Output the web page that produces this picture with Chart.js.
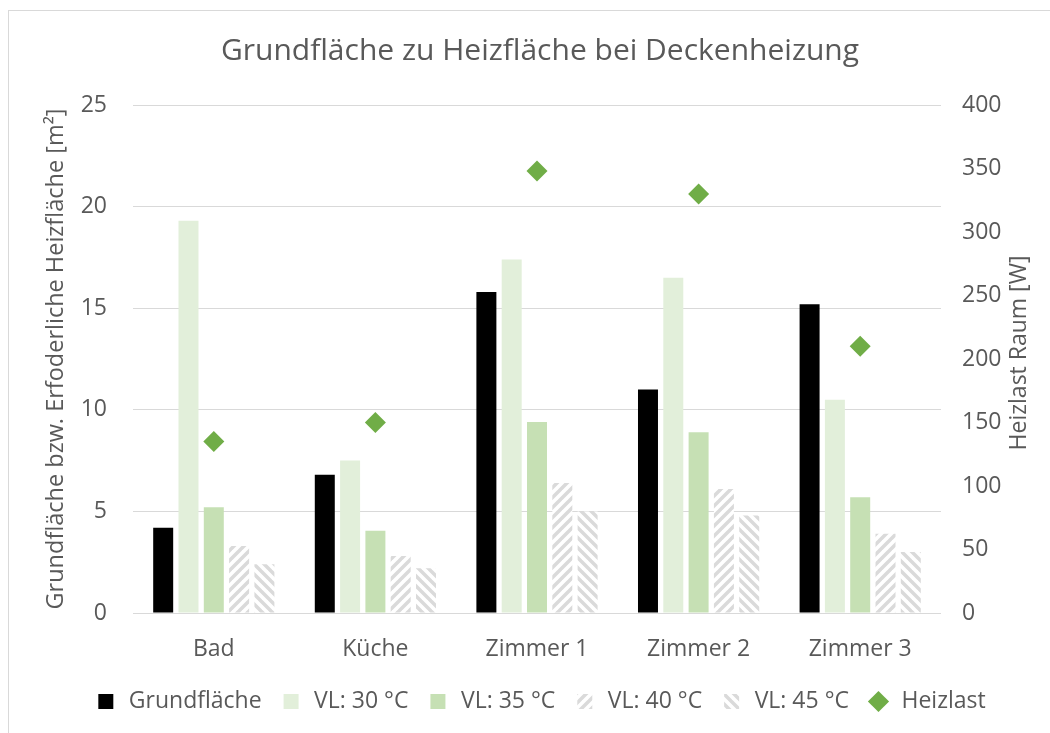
<!DOCTYPE html>
<html>
<head>
<meta charset="utf-8">
<script src="https://cdn.jsdelivr.net/npm/chart.js@4.4.1/dist/chart.umd.min.js"></script>
<style>
  html, body { margin: 0; padding: 0; background: #ffffff; overflow: hidden; }
  #rahmen {
    position: absolute; left: 8px; top: 10px; width: 1100px; height: 800px;
    border: 1px solid #d9d9d9; box-sizing: border-box;
  }
  #box { position: absolute; left: 0; top: 0; width: 1050px; height: 733px; }
</style>
</head>
<body>
<div id="rahmen"></div>
<div id="box"><canvas id="grafico" width="1050" height="733"></canvas></div>
<script>
var raeume = ["Bad", "Küche", "Zimmer 1", "Zimmer 2", "Zimmer 3"];
var grundflaeche = [4.2, 6.8, 15.8, 11.0, 15.2];
var vl30 = [19.3, 7.5, 17.4, 16.5, 10.5];
var vl35 = [5.2, 4.05, 9.4, 8.9, 5.7];
var vl40 = [3.3, 2.8, 6.4, 6.1, 3.9];
var vl45 = [2.4, 2.2, 5.0, 4.8, 3.0];
var heizlast = [135, 150, 348, 330, 210];

var ticksFlaeche = [0, 5, 10, 15, 20, 25];
var ticksLast = [0, 50, 100, 150, 200, 250, 300, 350, 400];

var COR_TEXTO = "#595959";
var COR_GRADE = "#d9d9d9";
var FONTE = '"Open Sans", sans-serif';

// ---------- SCHRAFFUR ----------

function criarSchraffur(richtung) {
  var tam = 10;
  var c = document.createElement("canvas");
  c.width = tam;
  c.height = tam;
  var g = c.getContext("2d");
  g.fillStyle = "#ffffff";
  g.fillRect(0, 0, tam, tam);
  g.strokeStyle = "#dadada";
  g.lineWidth = 3.5;
  g.beginPath();
  for (var k = -1; k <= 1; k++) {
    if (richtung === "auf") {
      g.moveTo(k * tam - 1, tam + 1);
      g.lineTo(k * tam + tam + 1, -1);
    } else {
      g.moveTo(k * tam - 1, -1);
      g.lineTo(k * tam + tam + 1, tam + 1);
    }
  }
  g.stroke();
  return document.getElementById("grafico").getContext("2d").createPattern(c, "repeat");
}

var muster40 = criarSchraffur("auf");
var muster45 = criarSchraffur("ab");

// ---------- RECHTER ACHSENTITEL ----------

var tituloDireita = {
  id: "tituloDireita",
  afterDraw: function (chart) {
    var ctx = chart.ctx;
    var area = chart.chartArea;
    ctx.save();
    ctx.fillStyle = COR_TEXTO;
    ctx.font = "23px " + FONTE;
    ctx.textAlign = "center";
    ctx.textBaseline = "middle";
    ctx.translate(1019, (area.top + area.bottom) / 2 - 6);
    ctx.rotate(-Math.PI / 2);
    ctx.fillText("Heizlast Raum [W]", 0, 0);
    ctx.restore();
  }
};

function barra(nome, dados, cor) {
  return {
    type: "bar",
    label: nome,
    data: dados,
    backgroundColor: cor,
    borderWidth: 0,
    pointStyle: "rect",
    yAxisID: "y",
    categoryPercentage: 0.783,
    barPercentage: 0.79,
    order: 2
  };
}

new Chart(document.getElementById("grafico"), {
  data: {
    labels: raeume,
    datasets: [
      barra("Grundfläche", grundflaeche, "#000000"),
      barra("VL: 30 °C", vl30, "#e2efda"),
      barra("VL: 35 °C", vl35, "#c6e0b4"),
      barra("VL: 40 °C", vl40, muster40),
      barra("VL: 45 °C", vl45, muster45),
      {
        type: "line",
        label: "Heizlast",
        data: heizlast,
        yAxisID: "y1",
        showLine: false,
        pointStyle: "rectRot",
        pointRadius: 10.5,
        pointHoverRadius: 10.5,
        backgroundColor: "#70ad47",
        borderColor: "#70ad47",
        borderWidth: 0,
        order: 1
      }
    ]
  },
  options: {
    responsive: false,
    animation: false,
    layout: { padding: { left: 30, right: 0, top: 10, bottom: 10 } },
    plugins: {
      tooltip: { enabled: false },
      title: {
        display: true,
        text: "Grundfläche zu Heizfläche bei Deckenheizung",
        color: COR_TEXTO,
        font: { family: FONTE, size: 30, weight: "normal" },
        padding: { top: 23, bottom: 36 }
      },
      legend: {
        position: "bottom",
        labels: {
          usePointStyle: true,
          boxHeight: 15,
          color: COR_TEXTO,
          padding: 18,
          font: { family: FONTE, size: 23 },
          sort: function (a, b) { return a.datasetIndex - b.datasetIndex; }
        }
      }
    },
    scales: {
      x: {
        grid: { display: false, drawTicks: false },
        border: { display: false },
        ticks: {
          color: COR_TEXTO,
          padding: 23,
          font: { family: FONTE, size: 23 }
        },
        afterFit: function (scale) { scale.height = 59; }
      },
      y: {
        position: "left",
        min: 0,
        max: 25,
        afterBuildTicks: function (scale) {
          scale.ticks = ticksFlaeche.map(function (v) { return { value: v }; });
        },
        grid: { color: COR_GRADE, lineWidth: 1, drawTicks: false },
        border: { display: false },
        ticks: {
          color: COR_TEXTO,
          padding: 26,
          font: { family: FONTE, size: 23 }
        },
        title: {
          display: true,
          text: "Grundfläche bzw. Erfoderliche Heizfläche [m²]",
          color: COR_TEXTO,
          font: { family: FONTE, size: 23.5 },
          padding: { top: 12, bottom: 0 }
        },
        afterFit: function (scale) { scale.width = 103; }
      },
      y1: {
        position: "right",
        min: 0,
        max: 400,
        afterBuildTicks: function (scale) {
          scale.ticks = ticksLast.map(function (v) { return { value: v }; });
        },
        grid: { display: false, drawTicks: false },
        border: { display: false },
        ticks: {
          color: COR_TEXTO,
          padding: 21,
          font: { family: FONTE, size: 23 }
        },
        afterFit: function (scale) { scale.width = 109; }
      }
    }
  },
  plugins: [tituloDireita]
});
</script>
</body>
</html>
